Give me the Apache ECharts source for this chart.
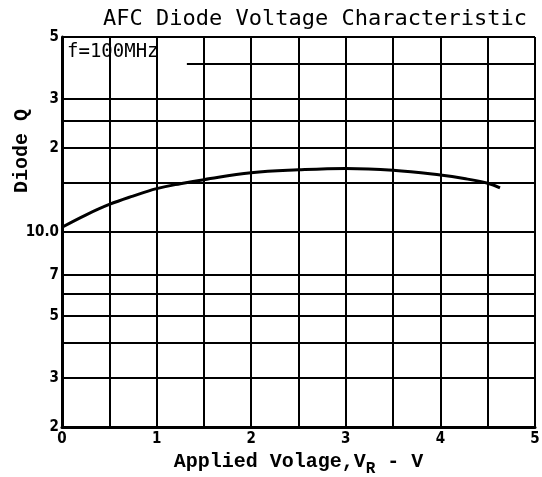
<!DOCTYPE html>
<html>
<head>
<meta charset="utf-8">
<script src="https://cdn.jsdelivr.net/npm/echarts@6/dist/echarts.min.js"></script>
<style>
  html, body { margin: 0; padding: 0; background: #fff; }
  #chart { width: 542px; height: 477px; }
</style>
</head>
<body>
<div id="chart"></div>
<script>
// applied voltage (V) and diode Q
const voltage = [0, 0.25, 0.5, 0.75, 1, 1.25, 1.5, 2, 2.5, 3, 3.5, 4, 4.25, 4.5, 4.63];
const diodeQ = [10.4, 11.5, 12.55, 13.45, 14.3, 14.9, 15.4, 16.3, 16.7, 16.9, 16.65, 16.0, 15.55, 14.95, 14.4];

// horizontal rulings of the log paper and the labels printed beside them
const qGrid = [2, 3, 4, 5, 6, 7, 10, 15, 20, 25, 30, 50];
const qLabels = { 2: "2", 3: "3", 5: "5", 7: "7", 10: "10.0", 20: "2", 30: "3", 50: "5" };
// the 40 ruling stops where the note is written
const q40Line = [1.32, 5, 40];

const labelFont = "'Liberation Sans Narrow', 'DejaVu Sans Condensed', sans-serif";
const monoFont = "'Liberation Mono', 'DejaVu Sans Mono', monospace";

let myChart = echarts.init(document.getElementById("chart"));

const gridLines = qGrid.map((q) => ({
  yAxis: q,
  label: { show: qLabels[q] !== undefined },
}));
gridLines.push([
  { coord: [q40Line[0], q40Line[2]] },
  { coord: [q40Line[1], q40Line[2]], label: { show: false } },
]);

myChart.setOption({
  animation: false,
  backgroundColor: "#ffffff",
  title: {
    text: "AFC Diode Voltage Characteristic",
    left: 310,
    textAlign: "center",
    top: 3,
    textStyle: {
      fontFamily: "'DejaVu Sans Mono', monospace",
      fontSize: 22,
      fontWeight: "normal",
      color: "#000",
    },
  },
  grid: { left: 62, right: 7, top: 37, bottom: 50, outerBoundsMode: "none" },
  xAxis: {
    type: "value",
    min: 0,
    max: 5,
    interval: 0.5,
    name: "Applied Volage,V{sub|R} - V",
    nameLocation: "middle",
    nameGap: 20,
    nameTextStyle: {
      fontFamily: monoFont,
      fontWeight: "bold",
      fontSize: 20,
      color: "#000",
      rich: {
        sub: {
          fontFamily: monoFont,
          fontWeight: "bold",
          fontSize: 16,
          color: "#000",
          verticalAlign: "top",
          padding: [14, 0, 0, 0],
        },
      },
    },
    axisLine: { lineStyle: { color: "#000", width: 3 } },
    axisTick: { show: false },
    axisLabel: {
      margin: 5,
      color: "#000",
      fontFamily: labelFont,
      fontWeight: "bold",
      fontSize: 15,
      formatter: (v) => (Number.isInteger(v) ? String(v) : ""),
    },
    splitLine: { show: true, lineStyle: { color: "#000", width: 2 } },
  },
  yAxis: {
    type: "log",
    logBase: 10,
    min: 2,
    max: 50,
    axisLine: { show: true, lineStyle: { color: "#000", width: 3 } },
    axisTick: { show: false },
    axisLabel: { show: false },
    splitLine: { show: false },
  },
  graphic: [
    {
      type: "text",
      x: 22,
      y: 151,
      rotation: Math.PI / 2,
      style: {
        text: "Diode Q",
        font: "bold 20px " + monoFont,
        fill: "#000",
        textAlign: "center",
        textVerticalAlign: "middle",
      },
    },
    {
      type: "text",
      left: 67,
      top: 43,
      style: {
        text: "f=100MHz",
        font: "19px 'DejaVu Sans Mono', monospace",
        fill: "#000",
      },
    },
  ],
  series: [
    {
      type: "line",
      data: voltage.map((v, i) => [v, diodeQ[i]]),
      smooth: 0.4,
      showSymbol: false,
      lineStyle: { color: "#000", width: 3 },
      z: 5,
      markLine: {
        silent: true,
        symbol: ["none", "none"],
        lineStyle: { color: "#000", width: 2, type: "solid" },
        label: {
          position: "start",
          distance: 3,
          color: "#000",
          fontFamily: labelFont,
          fontWeight: "bold",
          fontSize: 15,
          formatter: (p) => qLabels[p.value] || "",
        },
        data: gridLines,
      },
    },
  ],
});
</script>
</body>
</html>
